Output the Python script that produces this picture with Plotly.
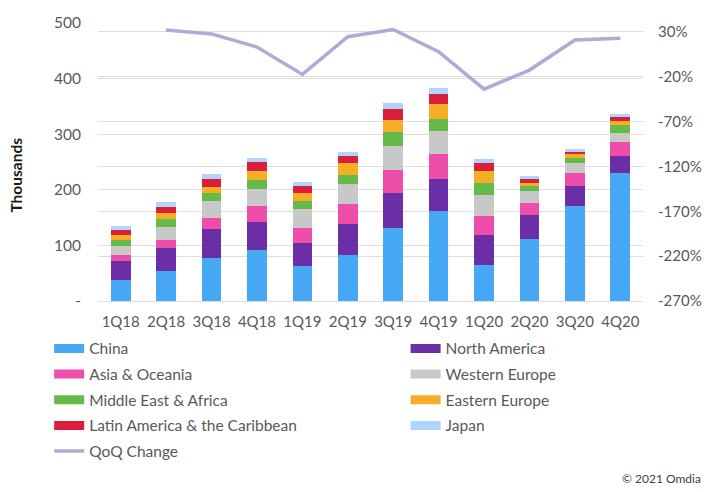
import plotly.graph_objects as go

quarters = ["1Q18", "2Q18", "3Q18", "4Q18", "1Q19", "2Q19", "3Q19", "4Q19", "1Q20", "2Q20", "3Q20", "4Q20"]

china = [38, 54, 77, 92, 63, 83, 132, 162, 65, 111.5, 171, 230]
north_america = [34.5, 42, 52.5, 49.5, 42, 55, 62, 58, 53, 43, 36, 31.5]
asia_oceania = [10, 14, 19.5, 29.5, 25.5, 36.5, 42, 44, 35.5, 22, 23, 24.5]
western_europe = [17, 23.5, 31, 31, 34.5, 35.5, 42, 42, 36.5, 20.5, 18, 16.5]
middle_east_africa = [10, 13.5, 15, 15.5, 15, 16.5, 26, 21.5, 21.5, 9.5, 10, 13.5]
eastern_europe = [8.5, 12, 10.5, 16, 13.5, 21, 22, 27.5, 22, 6.5, 6.5, 8.5]
latin_america = [9.5, 10, 13.5, 16.5, 13, 12.5, 19, 17, 14.5, 6, 4, 6]
japan = [7.5, 9, 9, 7.5, 8, 8.5, 11, 11, 8, 6, 5, 6]

qoq_quarters = quarters[1:]
qoq_change = [32.2, 27.8, 13.2, -17.4, 24.7, 32.8, 8.0, -33.8, -12.5, 21.0, 23.0]

left_tickvals = [0, 100, 200, 300, 400, 500]
left_ticktext = ["-", "100", "200", "300", "400", "500"]
right_tickvals = [-270, -220, -170, -120, -70, -20, 30]
right_ticktext = ["-270%", "-220%", "-170%", "-120%", "-70%", "-20%", "30%"]

series = [
    ("China", china, "#47a9f6", "legend"),
    ("North America", north_america, "#6b2ea6", "legend2"),
    ("Asia & Oceania", asia_oceania, "#ee4ea9", "legend"),
    ("Western Europe", western_europe, "#c8c8c8", "legend2"),
    ("Middle East & Africa", middle_east_africa, "#64bb4a", "legend"),
    ("Eastern Europe", eastern_europe, "#f5ae26", "legend2"),
    ("Latin America & the Caribbean", latin_america, "#d91f3b", "legend"),
    ("Japan", japan, "#b0d4fb", "legend2"),
]

FONT = "Lato"
GRAY = "#595959"
GRID = "#dedede"

fig = go.Figure()
for name, vals, color, lg in series:
    fig.add_trace(go.Bar(
        x=quarters, y=vals, name=name, marker=dict(color=color, line=dict(width=0)),
        showlegend=False, legendgroup=name,
    ))
# legend entries (wide rectangles)
for name, vals, color, lg in series:
    fig.add_trace(go.Scatter(
        x=[None], y=[None], mode="lines", name=name, legend=lg,
        line=dict(color=color, width=9), legendgroup=name, hoverinfo="skip",
    ))

fig.add_trace(go.Scatter(
    x=qoq_quarters, y=qoq_change, name="QoQ Change", mode="lines",
    line=dict(color="#b5a8d5", width=3.5), yaxis="y2", legend="legend",
    legendgroup="QoQ Change",
))

legend_common = dict(
    font=dict(family=FONT, size=15.5, color=GRAY),
    orientation="v", yanchor="top", xanchor="left",
    bgcolor="rgba(0,0,0,0)", borderwidth=0, tracegroupgap=2.5,
    itemwidth=30,
)

fig.update_layout(
    width=714, height=492,
    margin=dict(l=98, r=61, t=23, b=191),
    paper_bgcolor="white", plot_bgcolor="white",
    barmode="stack", bargap=0.567,
    font=dict(family=FONT, size=15, color=GRAY),
    xaxis=dict(
        categoryorder="array", categoryarray=quarters,
        showgrid=False, showline=True, linecolor=GRID, linewidth=1,
        ticks="", tickfont=dict(family=FONT, size=15, color=GRAY),
        ticklabelstandoff=7,
    ),
    yaxis=dict(
        range=[0, 500], tickvals=left_tickvals, ticktext=left_ticktext,
        showgrid=True, gridcolor=GRID, gridwidth=1, zeroline=False,
        tickfont=dict(family=FONT, size=15.5, color=GRAY), ticklabelstandoff=16,
    ),
    yaxis2=dict(
        overlaying="y", side="right", range=[-270, 40],
        tickvals=right_tickvals, ticktext=right_ticktext,
        showgrid=True, gridcolor=GRID, gridwidth=1, zeroline=False,
        tickfont=dict(family=FONT, size=15, color=GRAY), ticklabelstandoff=14,
    ),
    legend=dict(x=-0.0896, y=-0.111, **legend_common),
    legend2=dict(x=0.5644, y=-0.111, **legend_common),
    annotations=[
        dict(
            text="<b>Thousands</b>", xref="paper", yref="paper", x=-0.1495, y=0.453,
            xanchor="center", yanchor="middle", textangle=-90, showarrow=False,
            font=dict(family=FONT, size=15.5, color="#1a1a1a"),
        ),
        dict(
            text="© 2021 Omdia", xref="paper", yref="paper", x=1.1094, y=-0.64,
            xanchor="right", yanchor="middle", showarrow=False,
            font=dict(family=FONT, size=12, color="#404040"),
        ),
    ],
)

fig.write_html("out.html", config={"displayModeBar": False},
               post_script="document.body.style.margin='0';")
